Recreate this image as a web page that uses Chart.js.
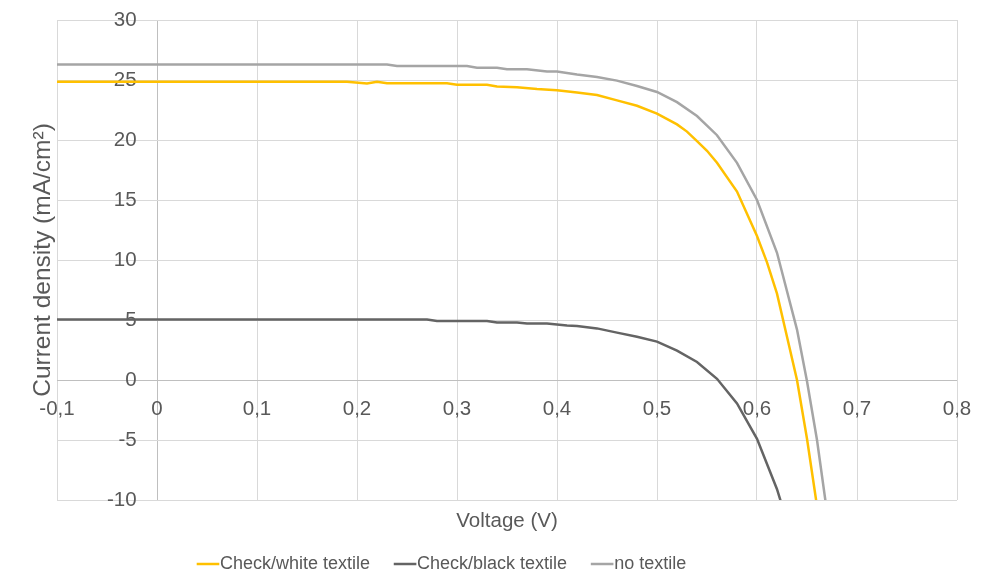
<!DOCTYPE html>
<html><head><meta charset="utf-8">
<script src="https://cdn.jsdelivr.net/npm/chart.js@4.4.1/dist/chart.umd.min.js"></script>
<style>html,body{margin:0;padding:0;background:#fff;}</style>
</head><body>
<canvas id="c" width="1004" height="577"></canvas>
<script>
// ---- data ----
const seriesNames = ['Check/white textile', 'Check/black textile', 'no textile'];

const whiteV = [-0.1, 0.19, 0.21, 0.22, 0.23, 0.29, 0.30, 0.33, 0.34, 0.36, 0.38, 0.40, 0.42, 0.44, 0.46, 0.48, 0.50, 0.52, 0.53, 0.54, 0.55, 0.56, 0.58, 0.60, 0.61, 0.62, 0.63, 0.64, 0.65, 0.66];
const whiteJ = [24.85, 24.85, 24.7, 24.85, 24.72, 24.72, 24.6, 24.6, 24.45, 24.4, 24.25, 24.15, 23.95, 23.75, 23.3, 22.85, 22.2, 21.3, 20.7, 19.9, 19.1, 18.1, 15.7, 12.0, 9.8, 7.2, 3.6, 0.0, -4.9, -10.5];

const blackV = [-0.1, 0.27, 0.28, 0.33, 0.34, 0.36, 0.37, 0.39, 0.41, 0.42, 0.44, 0.46, 0.48, 0.50, 0.52, 0.54, 0.56, 0.58, 0.60, 0.62, 0.63];
const blackJ = [5.05, 5.05, 4.92, 4.92, 4.8, 4.8, 4.7, 4.7, 4.55, 4.5, 4.3, 3.95, 3.6, 3.2, 2.45, 1.5, 0.1, -1.95, -4.9, -9.1, -11.8];

const noneV = [-0.1, 0.23, 0.24, 0.31, 0.32, 0.34, 0.35, 0.37, 0.39, 0.40, 0.42, 0.44, 0.46, 0.48, 0.50, 0.52, 0.54, 0.56, 0.58, 0.60, 0.62, 0.64, 0.65, 0.66, 0.67];
const noneJ = [26.3, 26.3, 26.17, 26.17, 26.03, 26.03, 25.9, 25.9, 25.7, 25.7, 25.45, 25.25, 24.95, 24.5, 24.0, 23.15, 22.0, 20.4, 18.1, 15.0, 10.6, 4.2, -0.1, -5.0, -11.0];

const xTickLabels = ['-0,1', '0', '0,1', '0,2', '0,3', '0,4', '0,5', '0,6', '0,7', '0,8'];
const yTickLabels = ['-10', '-5', '0', '5', '10', '15', '20', '25', '30'];
const xTitle = 'Voltage (V)';
const yTitle = 'Current density (mA/cm²)';

// ---- chart ----
const toPts = (V, J) => V.map((v, i) => ({x: v, y: J[i]}));
const colors = ['#FFC000', '#646464', '#A5A5A5'];
const textColor = '#595959';
Chart.defaults.font.family = "'Liberation Sans', Arial, Helvetica, sans-serif";

const gridColor = c => (c.tick && Math.abs(c.tick.value) < 1e-9) ? '#BFBFBF' : '#D9D9D9';
const noPad = s => { s.paddingLeft = 0; s.paddingRight = 0; s.paddingTop = 0; s.paddingBottom = 0; };

const legendShift = {
  id: 'legendShift',
  afterLayout(chart) {
    const lg = chart.legend;
    const w = lg.width;
    lg.left = 173;
    lg.right = 173 + w;
  }
};

new Chart(document.getElementById('c'), {
  type: 'line',
  data: {
    datasets: [
      {label: seriesNames[0], data: toPts(whiteV, whiteJ), borderColor: colors[0], backgroundColor: colors[0]},
      {label: seriesNames[1], data: toPts(blackV, blackJ), borderColor: colors[1], backgroundColor: colors[1]},
      {label: seriesNames[2], data: toPts(noneV, noneJ), borderColor: colors[2], backgroundColor: colors[2]}
    ].map(d => Object.assign(d, {borderWidth: 2.5, pointRadius: 0, tension: 0, fill: false, clip: 0}))
  },
  options: {
    responsive: false,
    animation: false,
    layout: {padding: {left: 0, right: 47, top: 20, bottom: -6}},
    plugins: {
      legend: {
        position: 'bottom',
        align: 'start',
        labels: {
          usePointStyle: true, pointStyle: 'line',
          boxWidth: 6, boxHeight: 16, padding: 32,
          color: textColor, font: {size: 18}
        }
      },
      tooltip: {enabled: false}
    },
    scales: {
      x: {
        type: 'linear', position: 'bottom', min: -0.1, max: 0.8,
        ticks: {stepSize: 0.1, mirror: true, padding: 78, autoSkip: false, maxRotation: 0,
                color: textColor, font: {size: 20.5},
                callback: (v, i) => xTickLabels[i]},
        grid: {color: gridColor, lineWidth: 1, drawTicks: false},
        border: {display: false},
        title: {display: true, text: xTitle, color: textColor, font: {size: 20.5}, padding: {top: 0, bottom: -10.3}},
        afterFit: s => { s.height = 23; noPad(s); }
      },
      y: {
        type: 'linear', position: 'left', min: -10, max: 30,
        ticks: {stepSize: 5, mirror: true, crossAlign: 'far', padding: 50, autoSkip: false,
                color: textColor, font: {size: 20.5},
                callback: (v, i) => yTickLabels[i]},
        grid: {color: gridColor, lineWidth: 1, drawTicks: false},
        border: {display: false},
        title: {display: true, text: yTitle, color: textColor, font: {size: 24.5}, padding: {top: 28.8, bottom: 0}},
        afterFit: s => { s.width = 57; noPad(s); }
      }
    }
  },
  plugins: [legendShift]
});
</script>
</body></html>
